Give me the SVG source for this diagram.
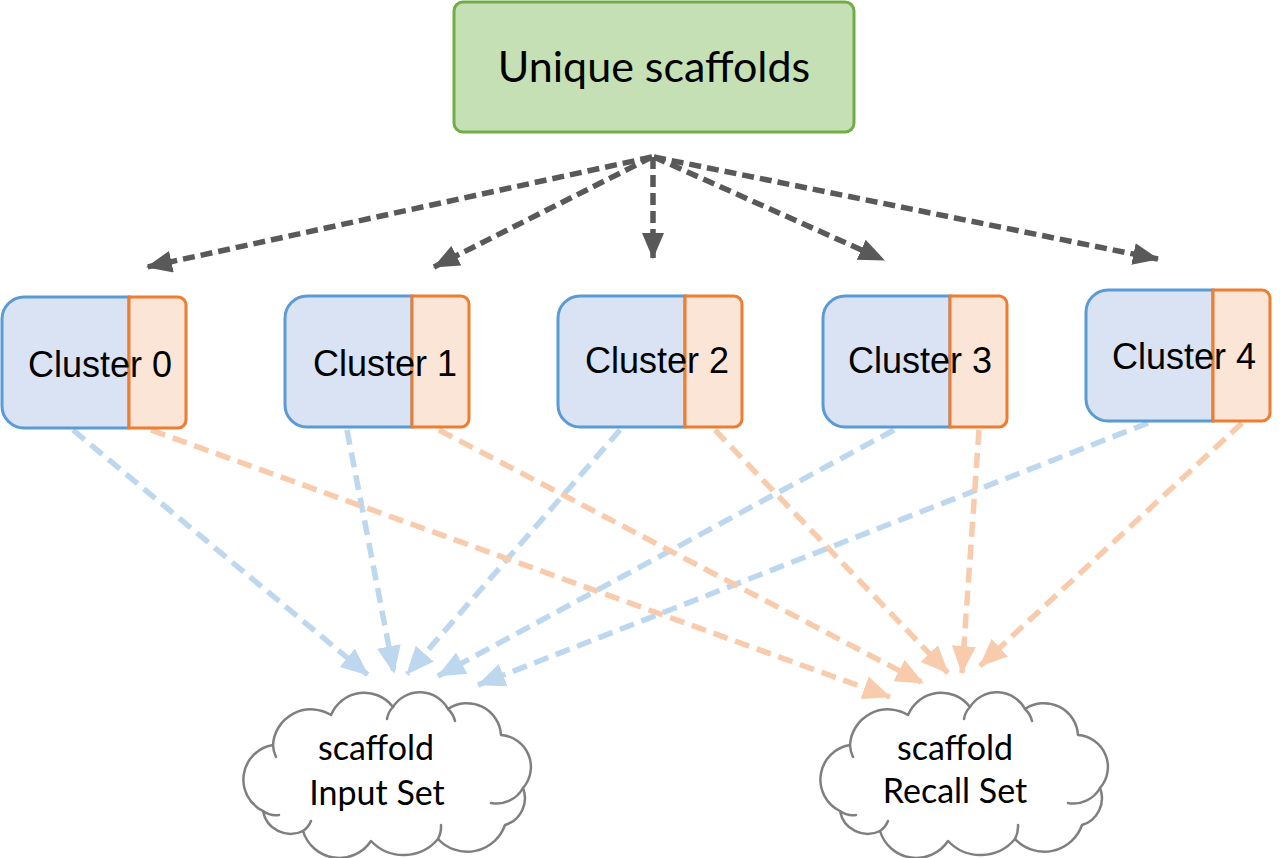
<svg xmlns="http://www.w3.org/2000/svg" xmlns:xlink="http://www.w3.org/1999/xlink" width="1280" height="858" viewBox="0 0 1280 858">
<style>
.top{fill:#c5e0b4;stroke:#70ad47;stroke-width:3}
.blue{fill:#dae3f3;stroke:#5b9bd5;stroke-width:3}
.orange{fill:#fbe5d6;stroke:#ed7d31;stroke-width:3}
.cl{font-family:"Liberation Sans",Arial,sans-serif;font-size:36px;fill:#000}
.cal{font-family:Lato,"Open Sans",sans-serif;fill:#000}
.cloud{fill:#fff;stroke:#7f7f7f;stroke-width:2.5;stroke-linejoin:round}
.hook{fill:none;stroke:#7f7f7f;stroke-width:2.5;stroke-linecap:round}
.dk{stroke:#595959;stroke-width:5.5;stroke-dasharray:12 6;fill:none;marker-end:url(#ahD)}
.lb{stroke:#bdd7ee;stroke-width:5.5;stroke-dasharray:15 8;fill:none;marker-end:url(#ahB)}
.lo{stroke:#f8cbad;stroke-width:5.5;stroke-dasharray:15 8;fill:none;marker-end:url(#ahO)}
</style>
<defs>
<marker id="ahD" markerUnits="userSpaceOnUse" markerWidth="26" markerHeight="22" refX="25" refY="11" orient="auto"><path d="M0,0 L26,11 L0,22 z" fill="#595959"/></marker>
<marker id="ahB" markerUnits="userSpaceOnUse" markerWidth="28" markerHeight="24" refX="27" refY="12" orient="auto"><path d="M0,0 L28,12 L0,24 z" fill="#bdd7ee"/></marker>
<marker id="ahO" markerUnits="userSpaceOnUse" markerWidth="28" markerHeight="24" refX="27" refY="12" orient="auto"><path d="M0,0 L28,12 L0,24 z" fill="#f8cbad"/></marker>
<path id="bluePart" d="M127,0 H22 A22,22 0 0 0 0,22 V109 A22,22 0 0 0 22,131 H127 Z"/>
<path id="orangePart" d="M127,0 H176 A8,8 0 0 1 184,8 V123 A8,8 0 0 1 176,131 H127 Z"/>
<g id="cloudShape">
<path class="cloud" d="M20,118 A35,35 0 0 1 30,52 A38,38 0 0 1 88,22 A36,36 0 0 1 150,14 A32,32 0 0 1 205,16 A34,34 0 0 1 258,42 A32,32 0 0 1 280,95 A28,28 0 0 1 262,132 A40,40 0 0 1 195,146 A45,45 0 0 1 128,148 A38,38 0 0 1 60,138 A28,28 0 0 1 20,118 Z"/>
<path class="hook" d="M20,118 A22,22 0 0 0 36,122"/>
<path class="hook" d="M30,52 A30,30 0 0 0 33,64"/>
<path class="hook" d="M150,14 A22,22 0 0 0 144,26"/>
<path class="hook" d="M205,16 A24,24 0 0 1 212,28"/>
<path class="hook" d="M280,95 A30,30 0 0 1 248,110"/>
<path class="hook" d="M60,138 A22,22 0 0 0 68,128"/>
<path class="hook" d="M195,146 A26,26 0 0 0 198,132"/>
</g>
</defs>

<g id="connectors">
<line class="dk" x1="652" y1="157" x2="147" y2="267"/>
<line class="dk" x1="652" y1="157" x2="434" y2="267"/>
<line class="dk" x1="653" y1="157" x2="653" y2="258"/>
<line class="dk" x1="654" y1="157" x2="884" y2="260"/>
<line class="dk" x1="654" y1="157" x2="1158" y2="259"/>

<line class="lb" x1="73" y1="430" x2="368" y2="675"/>
<line class="lb" x1="347" y1="430" x2="394" y2="673"/>
<line class="lb" x1="620" y1="430" x2="407" y2="674"/>
<line class="lb" x1="894" y1="430" x2="438" y2="676"/>
<line class="lb" x1="1148" y1="423" x2="478" y2="685"/>

<line class="lo" x1="151" y1="430" x2="890" y2="697"/>
<line class="lo" x1="439" y1="430" x2="923" y2="683"/>
<line class="lo" x1="715" y1="430" x2="948" y2="673"/>
<line class="lo" x1="979" y1="430" x2="962" y2="673"/>
<line class="lo" x1="1242" y1="423" x2="980" y2="666"/>
</g>

<g id="unique-scaffolds">
<rect class="top" x="454" y="2" width="400" height="130" rx="9"/>
<text class="cal" x="654" y="82" font-size="43" text-anchor="middle">Unique scaffolds</text>
</g>

<g id="cluster0" transform="translate(2,297)">
<use xlink:href="#bluePart" class="blue"/>
<use xlink:href="#orangePart" class="orange"/>
<text class="cl" x="26" y="80">Cluster 0</text>
</g>
<g id="cluster1" transform="translate(285,296)">
<use xlink:href="#bluePart" class="blue"/>
<use xlink:href="#orangePart" class="orange"/>
<text class="cl" x="28" y="80">Cluster 1</text>
</g>
<g id="cluster2" transform="translate(558,296)">
<use xlink:href="#bluePart" class="blue"/>
<use xlink:href="#orangePart" class="orange"/>
<text class="cl" x="27" y="77">Cluster 2</text>
</g>
<g id="cluster3" transform="translate(823,296)">
<use xlink:href="#bluePart" class="blue"/>
<use xlink:href="#orangePart" class="orange"/>
<text class="cl" x="25" y="77">Cluster 3</text>
</g>
<g id="cluster4" transform="translate(1086,290)">
<use xlink:href="#bluePart" class="blue"/>
<use xlink:href="#orangePart" class="orange"/>
<text class="cl" x="26" y="79">Cluster 4</text>
</g>

<g id="input-set">
<use xlink:href="#cloudShape" transform="translate(243,693)"/>
<text class="cal" x="376" y="760" font-size="34" text-anchor="middle">scaffold</text>
<text class="cal" x="377" y="805" font-size="34" text-anchor="middle">Input Set</text>
</g>
<g id="recall-set">
<use xlink:href="#cloudShape" transform="translate(820,693)"/>
<text class="cal" x="955" y="760" font-size="34" text-anchor="middle">scaffold</text>
<text class="cal" x="955" y="803" font-size="34" text-anchor="middle">Recall Set</text>
</g>
</svg>
